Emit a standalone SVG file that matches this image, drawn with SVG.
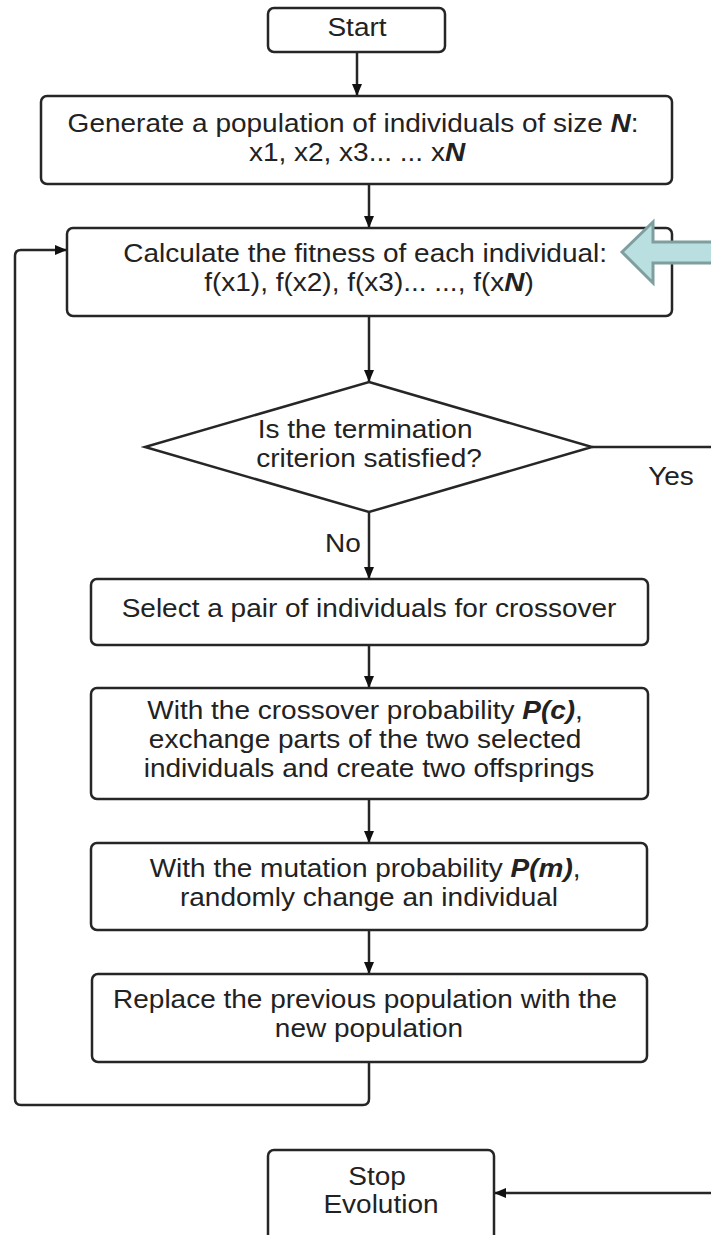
<svg xmlns="http://www.w3.org/2000/svg" width="711" height="1235" viewBox="0 0 711 1235">
  <style>
    .box { fill: #ffffff; stroke: #262626; stroke-width: 2.5; }
    .edge { fill: none; stroke: #262626; stroke-width: 2.5; }
    .t { font-family: "Liberation Sans", Arial, sans-serif; font-size: 25px; fill: #222222; text-anchor: middle; }
    .bi { font-weight: bold; font-style: italic; }
    .callout { fill: #b9dfe1; stroke: #7f9e9e; stroke-width: 3; stroke-linejoin: miter; }
  </style>
  <defs>
    <marker id="arrow" viewBox="0 0 12 10" refX="12" refY="5" markerWidth="12" markerHeight="10" markerUnits="userSpaceOnUse" orient="auto">
      <path d="M0,0 L12,5 L0,10 Z" fill="#111111"/>
    </marker>
  </defs>

  <rect width="711" height="1235" fill="#ffffff"/>

  <!-- connectors -->
  <g id="connectors">
    <line class="edge" x1="357" y1="52" x2="357" y2="96" marker-end="url(#arrow)"/>
    <line class="edge" x1="369" y1="184" x2="369" y2="228" marker-end="url(#arrow)"/>
    <line class="edge" x1="369" y1="316" x2="369" y2="382" marker-end="url(#arrow)"/>
    <line class="edge" x1="369" y1="512" x2="369" y2="579" marker-end="url(#arrow)"/>
    <line class="edge" x1="369" y1="645" x2="369" y2="688" marker-end="url(#arrow)"/>
    <line class="edge" x1="369" y1="799" x2="369" y2="843" marker-end="url(#arrow)"/>
    <line class="edge" x1="369" y1="930" x2="369" y2="974" marker-end="url(#arrow)"/>
    <!-- loop back to fitness evaluation -->
    <path class="edge" d="M369,1062 V1099 Q369,1105 363,1105 H21 Q15,1105 15,1099 V256 Q15,250 21,250 H67" marker-end="url(#arrow)"/>
    <!-- Yes branch -->
    <line class="edge" x1="592" y1="447" x2="713" y2="447"/>
    <line class="edge" x1="713" y1="1193" x2="494" y2="1193" marker-end="url(#arrow)"/>
    <text class="t" transform="matrix(1.12 0 0 1 671 0)" x="0" y="485">Yes</text>
    <text class="t" transform="matrix(1.12 0 0 1 343 0)" x="0" y="552">No</text>
  </g>

  <g id="start">
    <rect class="box" x="268" y="8" width="177" height="44" rx="6"/>
    <text class="t" transform="matrix(1.12 0 0 1 357 0)" x="0" y="36">Start</text>
  </g>

  <g id="generate">
    <rect class="box" x="41" y="96" width="631" height="88" rx="6"/>
    <text class="t" transform="matrix(1.12 0 0 1 357 0)">
      <tspan x="0" y="132">Generate a population of individuals of size <tspan class="bi">N</tspan>:</tspan>
      <tspan x="0" y="161">x1, x2, x3... ... x<tspan class="bi">N</tspan></tspan>
    </text>
  </g>

  <g id="fitness">
    <rect class="box" x="67" y="228" width="605" height="88" rx="6"/>
    <text class="t" transform="matrix(1.12 0 0 1 369 0)">
      <tspan x="0" y="262">Calculate the fitness of each individual:</tspan>
      <tspan x="0" y="291">f(x1), f(x2), f(x3)... ..., f(x<tspan class="bi">N</tspan>)</tspan>
    </text>
  </g>

  <g id="pointer">
    <polygon class="callout" points="622,252 653,222 653,242 714,242 714,263 653,263 653,283"/>
  </g>

  <g id="termination">
    <polygon class="box" points="369,382 592,447 369,512 145,447"/>
    <text class="t" transform="matrix(1.12 0 0 1 369 0)">
      <tspan x="0" y="438">Is the termination</tspan>
      <tspan x="0" y="467">criterion satisfied?</tspan>
    </text>
  </g>

  <g id="selection">
    <rect class="box" x="91" y="579" width="557" height="66" rx="6"/>
    <text class="t" transform="matrix(1.12 0 0 1 369 0)" x="0" y="617">Select a pair of individuals for crossover</text>
  </g>

  <g id="crossover">
    <rect class="box" x="91" y="688" width="557" height="111" rx="6"/>
    <text class="t" transform="matrix(1.12 0 0 1 369 0)">
      <tspan x="0" y="719">With the crossover probability <tspan class="bi">P(c)</tspan>,</tspan>
      <tspan x="0" y="748">exchange parts of the two selected</tspan>
      <tspan x="0" y="777">individuals and create two offsprings</tspan>
    </text>
  </g>

  <g id="mutation">
    <rect class="box" x="91" y="843" width="556" height="87" rx="6"/>
    <text class="t" transform="matrix(1.12 0 0 1 369 0)">
      <tspan x="0" y="877">With the mutation probability <tspan class="bi">P(m)</tspan>,</tspan>
      <tspan x="0" y="906">randomly change an individual</tspan>
    </text>
  </g>

  <g id="replace">
    <rect class="box" x="92" y="974" width="555" height="88" rx="6"/>
    <text class="t" transform="matrix(1.12 0 0 1 369 0)">
      <tspan x="0" y="1008">Replace the previous population with the</tspan>
      <tspan x="0" y="1037">new population</tspan>
    </text>
  </g>

  <g id="stop">
    <rect class="box" x="268" y="1150" width="226" height="100" rx="6"/>
    <text class="t" transform="matrix(1.12 0 0 1 381 0)">
      <tspan x="0" y="1185">Stop</tspan>
      <tspan x="0" y="1213">Evolution</tspan>
    </text>
  </g>
</svg>
